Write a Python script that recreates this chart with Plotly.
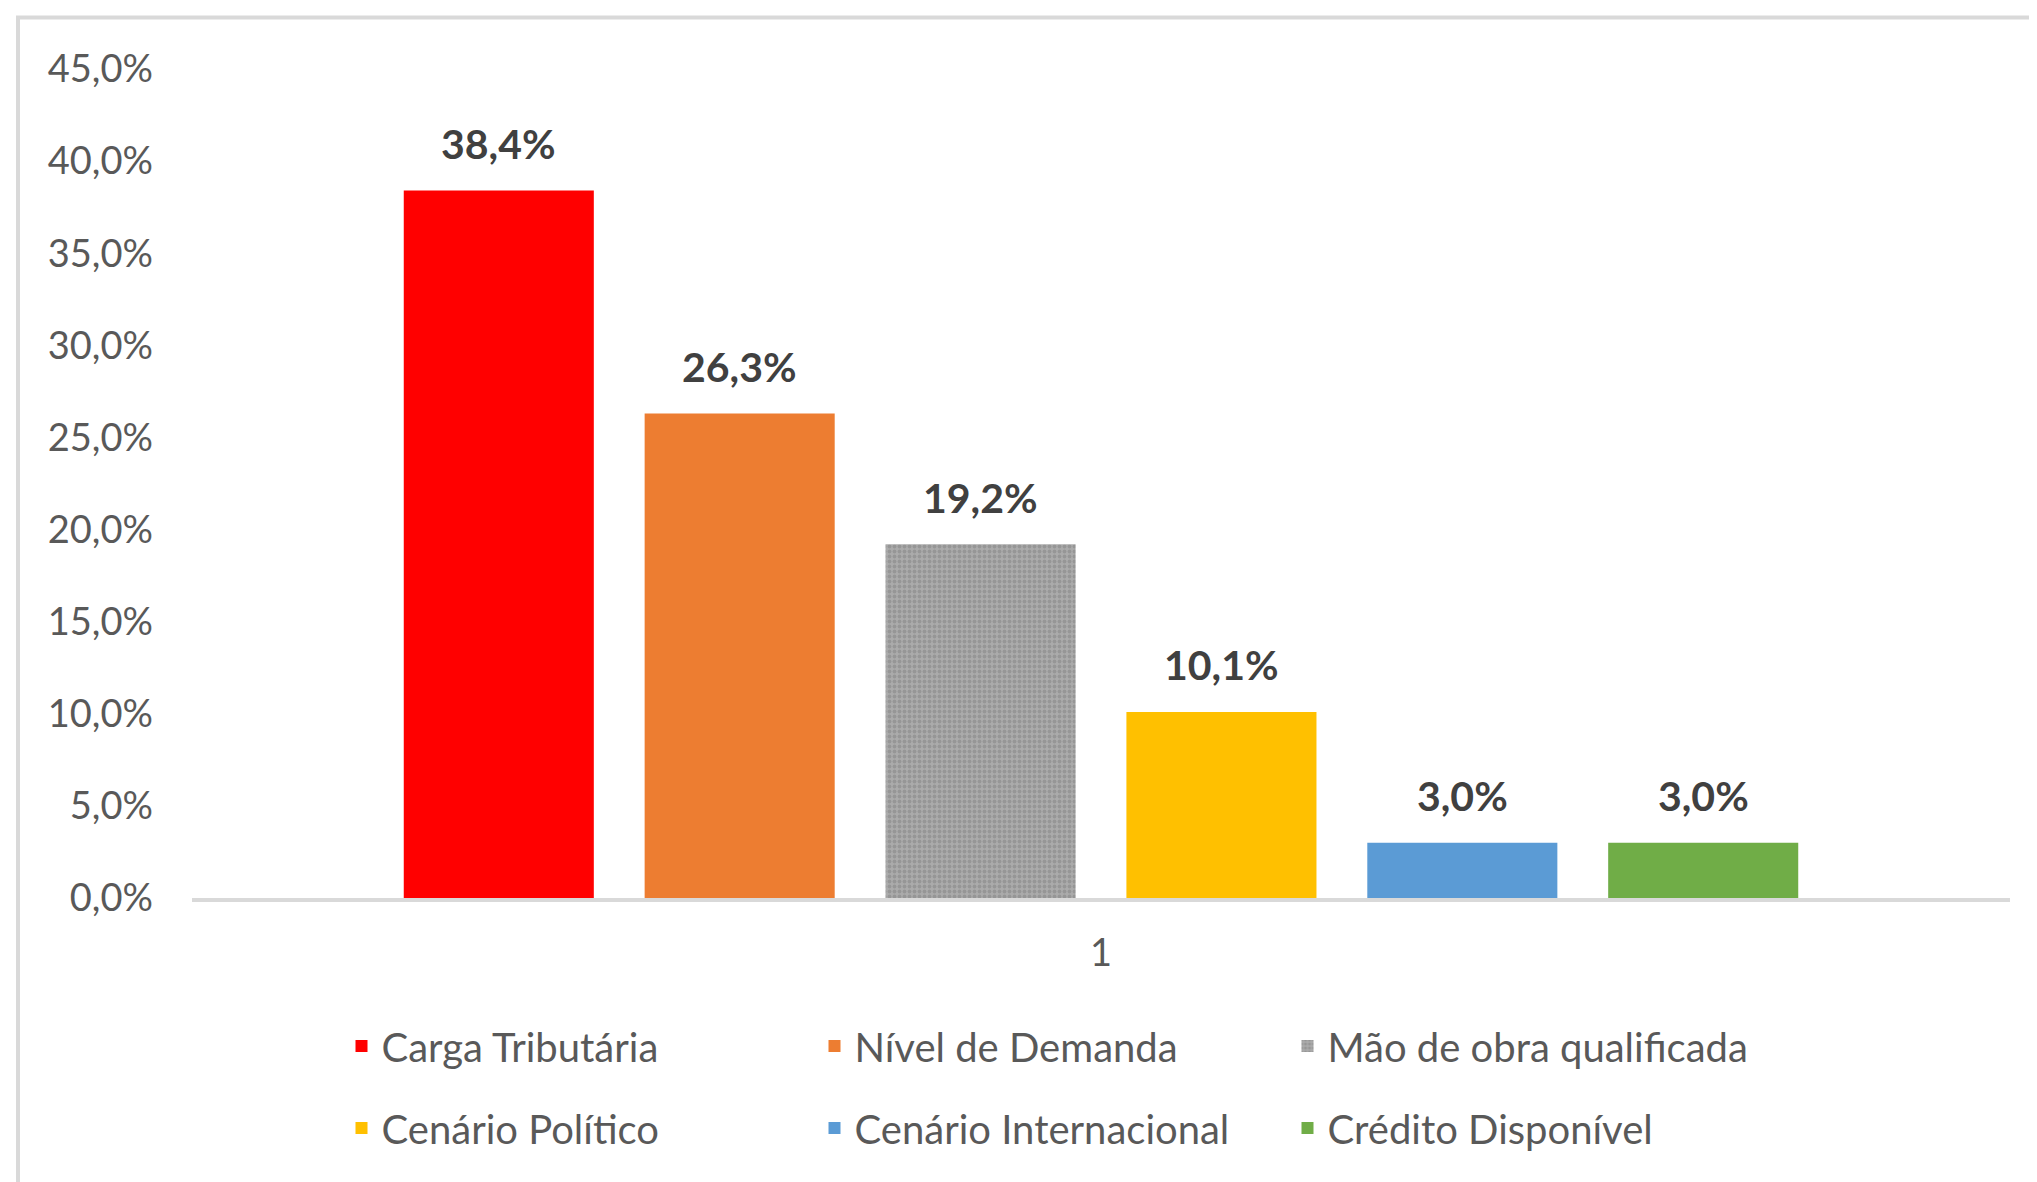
import plotly.graph_objects as go

categories = ["1"]
series_names = ["Carga Tributária", "Nível de Demanda", "Mão de obra qualificada",
                "Cenário Político", "Cenário Internacional", "Crédito Disponível"]
series_values = [0.384, 0.263, 0.192, 0.101, 0.030, 0.030]
series_colors = ["#FF0000", "#ED7D31", "#A5A5A5", "#FFC000", "#5B9BD5", "#70AD47"]
series_legend = ["legend", "legend", "legend", "legend2", "legend2", "legend2"]

# the page body adds an 8px margin, so the figure is laid out in page coords minus 8
OFF = 8
W, H = 2037 - OFF, 1182 - OFF
PLOT_L, PLOT_R, PLOT_T, PLOT_B = 192 - OFF, 2010 - OFF, 69 - OFF, 898 - OFF
ML, MR, MT, MB = PLOT_L, W - PLOT_R, PLOT_T, H - PLOT_B
PW, PH = PLOT_R - PLOT_L, PLOT_B - PLOT_T
BARGAP = 0.205
BARGROUPGAP = 0.211
FONT = "Lato"
TXT = "#595959"


def px_x(p):
    return (p - OFF - PLOT_L) / PW


def px_y(p):
    return (PLOT_B - (p - OFF)) / PH


fig = go.Figure()
for name, val, col, lg in zip(series_names, series_values, series_colors, series_legend):
    marker = dict(color=col, line=dict(width=0))
    if col == "#A5A5A5":
        marker["pattern"] = dict(shape=".", fillmode="replace", bgcolor="#ababab",
                                 fgcolor="#969696", size=5, solidity=0.45)
    fig.add_trace(go.Bar(x=categories, y=[val], name=name, marker=marker, legend=lg))

# data labels placed above each bar (centre of each bar in category units)
n = len(series_values)
group_w = 1 - BARGAP
slot = group_w / n
for i, val in enumerate(series_values):
    xc = -group_w / 2 + slot * (i + 0.5)
    fig.add_annotation(x=xc, y=val, xref="x", yref="y", text=f"{val*100:.1f}%".replace(".", ","),
                       showarrow=False, yanchor="middle", yshift=47,
                       font=dict(family=FONT, size=41, color="#404040", weight="bold"))

# outer chart frame (left and top edges visible)
fig.add_shape(type="rect", xref="paper", yref="paper",
              x0=px_x(18), x1=px_x(2037 + 30),
              y0=px_y(1182 + 30), y1=px_y(17.5),
              line=dict(color="#d9d9d9", width=4), fillcolor="rgba(0,0,0,0)", layer="below")

leg_common = dict(orientation="h", xanchor="left", yanchor="middle",
                  entrywidth=428, entrywidthmode="pixels",
                  font=dict(family=FONT, size=40, color=TXT),
                  bgcolor="rgba(0,0,0,0)", borderwidth=0, traceorder="normal")

fig.update_layout(
    width=W, height=H,
    margin=dict(l=ML, r=MR, t=MT, b=MB),
    paper_bgcolor="white", plot_bgcolor="white",
    separators=",.",
    barmode="group", bargap=BARGAP, bargroupgap=BARGROUPGAP,
    font=dict(family=FONT, color=TXT),
    legend=dict(x=px_x(341.5), y=px_y(1046), **leg_common),
    legend2=dict(x=px_x(341.5), y=px_y(1128), **leg_common),
    xaxis=dict(type="category", showline=True, linecolor="#d9d9d9", linewidth=4,
               showgrid=False, ticks="", tickfont=dict(family=FONT, size=38, color=TXT),
               ticklabelstandoff=18),
    yaxis=dict(range=[0, 0.45], dtick=0.05, tick0=0, tickformat=".1%", showgrid=False,
               zeroline=False, showline=False, ticks="",
               tickfont=dict(family=FONT, size=38, color=TXT), ticklabelstandoff=38),
)

fig.write_html("out.html")
